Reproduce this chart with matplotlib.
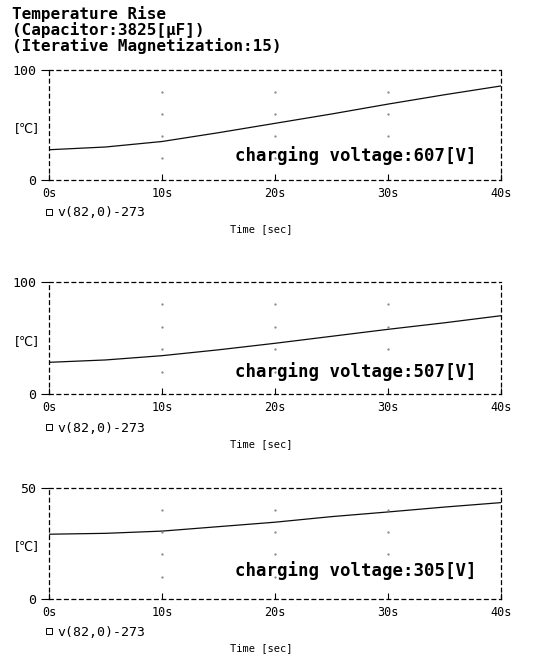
import numpy as np
import matplotlib
matplotlib.use("Agg")
import matplotlib.pyplot as plt
from matplotlib.lines import Line2D

# values
time_s = [0, 5, 10, 15, 20, 25, 30, 35, 40]
temp_607 = [27.5, 30.0, 35.0, 43.0, 51.5, 60.0, 69.0, 77.5, 85.5]
temp_507 = [28.4, 30.5, 34.3, 39.5, 45.3, 51.5, 57.7, 63.5, 69.8]
temp_305 = [29.1, 29.5, 30.5, 32.5, 34.5, 37.0, 39.1, 41.3, 43.3]

voltages = ["607", "507", "305"]
y_tops = [100, 100, 50]
x_ticks = [0, 10, 20, 30, 40]
x_ticklabels = ["0s", "10s", "20s", "30s", "40s"]
title_lines = ["Temperature Rise", "(Capacitor:3825[\u03bcF])",
               "(Iterative Magnetization:15)"]
trace_name = "v(82,0)-273"

mono = "DejaVu Sans Mono"

fig = plt.figure(figsize=(5.53, 6.57), dpi=100)

for i, line in enumerate(title_lines):
    fig.text(0.022, 1 - (14 + 16 * i) / 657, line, family=mono,
             fontweight="bold", fontsize=11.5, va="center")

# axes boxes in pixels: (top, bottom)
boxes = [(70, 180), (281.7, 394.3), (487.7, 599)]
series = [temp_607, temp_507, temp_305]
text_y = [0.227, 0.2, 0.254]

for k in range(3):
    top, bot = boxes[k]
    ax = fig.add_axes([49 / 553, 1 - bot / 657, 452 / 553, (bot - top) / 657])
    ax.plot(time_s, series[k], color="0.05", lw=0.9)

    ax.set_xlim(0, 40)
    ax.set_ylim(0, y_tops[k])

    # sparse grid dots like the plotter output
    gx, gy = np.meshgrid([10, 20, 30], np.array([0.2, 0.4, 0.6, 0.8]) * y_tops[k])
    ax.plot(gx.ravel(), gy.ravel(), ls="none", marker=".", ms=1.2, color="0.5")

    for sp in ax.spines.values():
        sp.set_linestyle((0, (3, 3)))
        sp.set_linewidth(0.9)

    ax.set_xticks(x_ticks)
    ax.set_xticklabels(x_ticklabels, family=mono, fontsize=8.5)
    ax.set_yticks([0, y_tops[k]])
    ax.set_yticklabels(["0", str(y_tops[k])], family=mono, fontsize=9.5)
    ax.tick_params(axis="x", direction="in", length=4, width=0.8, pad=5)
    ax.tick_params(axis="y", direction="out", length=6, width=0.8, pad=3)

    ax.text(-0.049, 0.47, "[\u2103]", transform=ax.transAxes, ha="center",
            va="center", fontsize=9)
    ax.text(0.945, text_y[k], "charging voltage:%s[V]" % voltages[k],
            transform=ax.transAxes, ha="right", va="center",
            family=mono, fontweight="bold", fontsize=12.5)

    h = Line2D([], [], ls="none", marker="s", mfc="none", mec="k", ms=4, mew=0.7)
    ax.legend([h], [trace_name], loc="center left", bbox_to_anchor=(-0.035, -0.3),
              frameon=False, handlelength=0.6, handletextpad=0.3,
              prop={"family": mono, "size": 9.5})

    ax.text(0.47, -0.445, "Time [sec]", transform=ax.transAxes, ha="center",
            va="center", family=mono, fontsize=7.5)

fig.savefig("out.png", dpi=100)
